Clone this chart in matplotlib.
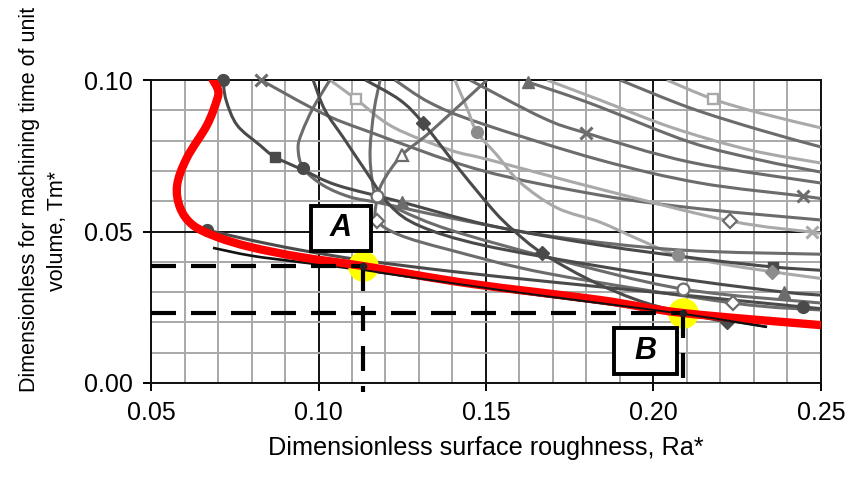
import numpy as np
import matplotlib
matplotlib.use("Agg")
import matplotlib.pyplot as plt
from matplotlib.path import Path
from matplotlib.patches import PathPatch, Rectangle

plt.rcParams['font.family'] = ['Liberation Sans', 'DejaVu Sans']

# ---------------- data ----------------
# Pareto front (red) and the nearby reference curve (black)
red_x = [0.0682, 0.0700, 0.0697, 0.0667, 0.0607, 0.0578, 0.0587, 0.0625, 0.0697,
         0.0796, 0.0945, 0.1133, 0.1452, 0.1840, 0.2088, 0.2500]
red_y = [0.1005, 0.0967, 0.0935, 0.0851, 0.0743, 0.0653, 0.0578, 0.0521, 0.0482,
         0.0449, 0.0416, 0.0386, 0.0328, 0.0274, 0.0231, 0.0191]
black_x = [0.0685, 0.0800, 0.0945, 0.1139, 0.1542, 0.2088, 0.2339]
black_y = [0.0446, 0.0420, 0.0399, 0.0372, 0.0307, 0.0228, 0.0185]

# Family of Tm*-Ra* curves for the individual parameter sets
h1_x = [0.2040, 0.2178, 0.2318, 0.2500]
h1_y = [0.1000, 0.0937, 0.0891, 0.0842]
h2_x = [0.1900, 0.2109, 0.2318, 0.2500]
h2_y = [0.1000, 0.0908, 0.0835, 0.0779]
h3_x = [0.1682, 0.1840, 0.2058, 0.2288, 0.2500]
h3_y = [0.1000, 0.0934, 0.0842, 0.0769, 0.0726]
h4_x = [0.1625, 0.1722, 0.1840, 0.2109, 0.2318, 0.2500]
h4_y = [0.0993, 0.0958, 0.0911, 0.0795, 0.0736, 0.0696]
h5_x = [0.1452, 0.1670, 0.1799, 0.2109, 0.2500]
h5_y = [0.1000, 0.0875, 0.0825, 0.0729, 0.0660]
h6_x = [0.1228, 0.1333, 0.1482, 0.1840, 0.2139, 0.2446, 0.2500]
h6_y = [0.1000, 0.0925, 0.0858, 0.0736, 0.0660, 0.0617, 0.0608]
g1_x = [0.0715, 0.0724, 0.0757, 0.0825, 0.0870, 0.0954, 0.1055, 0.1249, 0.1512,
        0.1840, 0.2139, 0.2357, 0.2500]
g1_y = [0.1000, 0.0934, 0.0851, 0.0785, 0.0746, 0.0703, 0.0653, 0.0597, 0.0520,
        0.0455, 0.0410, 0.0383, 0.0372]
g2_x = [0.0828, 0.1010, 0.1154, 0.1482, 0.1840, 0.2139, 0.2500]
g2_y = [0.1000, 0.0891, 0.0828, 0.0703, 0.0620, 0.0575, 0.0538]
g3_x = [0.1034, 0.1112, 0.1222, 0.1393, 0.1512, 0.1840, 0.2228, 0.2473, 0.2500]
g3_y = [0.1000, 0.0937, 0.0845, 0.0769, 0.0736, 0.0640, 0.0535, 0.0498, 0.0494]
s1_x = [0.0984, 0.1019, 0.1079, 0.1139, 0.1213, 0.1303, 0.1490, 0.1840, 0.2139,
        0.2390, 0.2500]
s1_y = [0.1000, 0.0901, 0.0802, 0.0703, 0.0587, 0.0518, 0.0455, 0.0385, 0.0335,
        0.0300, 0.0290]
s2_x = [0.1140, 0.1243, 0.1312, 0.1422, 0.1521, 0.1581, 0.1667, 0.1810, 0.1951,
        0.2079, 0.2219]
s2_y = [0.1000, 0.0934, 0.0858, 0.0703, 0.0571, 0.0505, 0.0429, 0.0340, 0.0274,
        0.0234, 0.0201]
s3_x = [0.1407, 0.1443, 0.1473, 0.1533, 0.1601, 0.1712, 0.1840, 0.1960, 0.2073,
        0.2258, 0.2500]
s3_y = [0.1000, 0.0908, 0.0828, 0.0752, 0.0663, 0.0578, 0.0531, 0.0472, 0.0422,
        0.0383, 0.0345]
c1_x = [0.1034, 0.0984, 0.0951, 0.0939, 0.0954, 0.1013, 0.1094, 0.1184, 0.1393,
        0.1691, 0.2079, 0.2500]
c1_y = [0.1000, 0.0908, 0.0828, 0.0776, 0.0710, 0.0653, 0.0614, 0.0594, 0.0545,
        0.0485, 0.0439, 0.0425]
c2_x = [0.1184, 0.1166, 0.1154, 0.1160, 0.1175, 0.1243, 0.1393, 0.1691, 0.2088, 0.2500]
c2_y = [0.1000, 0.0901, 0.0769, 0.0670, 0.0617, 0.0571, 0.0505, 0.0413, 0.0310, 0.0264]
c3_x = [0.1503, 0.1333, 0.1249, 0.1190, 0.1172, 0.1175, 0.1243, 0.1393, 0.1691,
        0.2237, 0.2500]
c3_y = [0.1000, 0.0828, 0.0752, 0.0660, 0.0590, 0.0535, 0.0488, 0.0439, 0.0360,
        0.0264, 0.0241]
d1_x = [0.0667, 0.0796, 0.0945, 0.1133, 0.1400, 0.1700, 0.2000, 0.2446, 0.2500]
d1_y = [0.0505, 0.0472, 0.0439, 0.0405, 0.0368, 0.0333, 0.0300, 0.0251, 0.0246]

# Markers sitting on the curves
circle_x = [0.0715, 0.0954, 0.2446, 0.0667]
circle_y = [0.1000, 0.0710, 0.0251, 0.0505]
light_circle_x = [0.1473, 0.2073]
light_circle_y = [0.0828, 0.0422]
square_x = [0.0870, 0.2357]
square_y = [0.0746, 0.0383]
hollow_square_x = [0.1112, 0.2178]
hollow_square_y = [0.0937, 0.0937]
triangle_x = [0.1249, 0.1625, 0.2390]
triangle_y = [0.0597, 0.0993, 0.0300]
hollow_triangle_x = [0.1249]
hollow_triangle_y = [0.0752]
diamond_x = [0.1312, 0.1667, 0.2219]
diamond_y = [0.0858, 0.0429, 0.0201]
light_diamond_x = [0.2354]
light_diamond_y = [0.0366]
hollow_diamond_x = [0.1175, 0.2228, 0.2237]
hollow_diamond_y = [0.0535, 0.0535, 0.0264]
hollow_circle_x = [0.1175, 0.2088]
hollow_circle_y = [0.0617, 0.0310]
cross_x = [0.0828, 0.1799, 0.2446]
cross_y = [0.1000, 0.0825, 0.0617]
light_cross_x = [0.2473]
light_cross_y = [0.0498]

# Selected optimum points
point_a = (0.1133, 0.0386)
point_b = (0.2088, 0.0231)

# ---------------- drawing ----------------
DARK = '#4a4a4a'
MID = '#6c6c6c'
LIGHT = '#a9a9a9'


def smooth_path(xs, ys):
    """Smoothed polyline through the points (Catmull-Rom as cubic Beziers)."""
    pts = np.column_stack([xs, ys]).astype(float)
    n = len(pts)
    verts = [pts[0]]
    codes = [Path.MOVETO]
    for i in range(n - 1):
        p0 = pts[i - 1] if i > 0 else pts[i]
        p1, p2 = pts[i], pts[i + 1]
        p3 = pts[i + 2] if i + 2 < n else pts[i + 1]
        verts += [p1 + (p2 - p0) / 6.0, p2 - (p3 - p1) / 6.0, p2]
        codes += [Path.CURVE4] * 3
    return Path(verts, codes)


def draw_curve(ax, xs, ys, color, lw=2.2, z=3):
    ax.add_patch(PathPatch(smooth_path(xs, ys), fill=False, edgecolor=color,
                           lw=lw, capstyle='butt', joinstyle='round', zorder=z))


fig = plt.figure(figsize=(8.61, 4.82), dpi=100)
ax = fig.add_axes([0.1754, 0.2054, 0.7781, 0.6286])
ax.set_xlim(0.05, 0.25)
ax.set_ylim(0.0, 0.10)

ax.set_xticks(np.arange(0.05, 0.2501, 0.05))
ax.set_yticks([0.0, 0.05, 0.10])
ax.set_xticks(np.arange(0.05, 0.2501, 0.01), minor=True)
ax.set_yticks(np.arange(0.0, 0.1001, 0.01), minor=True)
ax.xaxis.set_major_formatter(plt.FormatStrFormatter('%.2f'))
ax.yaxis.set_major_formatter(plt.FormatStrFormatter('%.2f'))
ax.grid(which='minor', color='#a8a8a8', lw=1.4, zorder=0)
ax.grid(which='major', color='#111111', lw=1.4, zorder=0)
ax.set_axisbelow(True)
ax.tick_params(which='minor', length=0)
ax.tick_params(which='major', length=6, width=1.4, direction='out',
               labelsize=18, pad=7)
for sp in ax.spines.values():
    sp.set_linewidth(1.4)
    sp.set_color('#111111')

for xs, ys, col in [
        (h1_x, h1_y, LIGHT), (h2_x, h2_y, MID), (h3_x, h3_y, LIGHT),
        (h4_x, h4_y, MID), (h5_x, h5_y, MID), (h6_x, h6_y, MID),
        (g2_x, g2_y, MID), (g3_x, g3_y, LIGHT), (s3_x, s3_y, LIGHT),
        (c1_x, c1_y, MID), (c2_x, c2_y, MID), (c3_x, c3_y, MID),
        (s1_x, s1_y, DARK), (s2_x, s2_y, DARK),
        (g1_x, g1_y, DARK), (d1_x, d1_y, DARK)]:
    draw_curve(ax, xs, ys, col)

mk = dict(ms=8.5, zorder=4, ls='none', clip_on=False)
ax.plot(circle_x, circle_y, 'o', color=DARK, **mk)
ax.plot(light_circle_x, light_circle_y, 'o', color='#8c8c8c', **mk)
ax.plot(square_x, square_y, 's', color=DARK, **dict(mk, ms=7.5))
ax.plot(hollow_square_x, hollow_square_y, 's', mfc='white', mec=LIGHT, mew=1.7,
        **dict(mk, ms=7.5))
ax.plot(triangle_x, triangle_y, '^', color=MID, **mk)
ax.plot(hollow_triangle_x, hollow_triangle_y, '^', mfc='white', mec=MID, mew=1.6, **mk)
ax.plot(diamond_x, diamond_y, 'D', color=DARK, **dict(mk, ms=7))
ax.plot(light_diamond_x, light_diamond_y, 'D', color='#8c8c8c', **dict(mk, ms=7))
ax.plot(hollow_diamond_x, hollow_diamond_y, 'D', mfc='white', mec=MID, mew=1.6,
        **dict(mk, ms=7))
ax.plot(hollow_circle_x, hollow_circle_y, 'o', mfc='white', mec=MID, mew=1.6, **mk)
ax.plot(cross_x, cross_y, 'x', color=MID, mew=2.2, **mk)
ax.plot(light_cross_x, light_cross_y, 'x', color=LIGHT, mew=2.2, **mk)

# black reference curve and red front
draw_curve(ax, black_x, black_y, '#111111', lw=1.9, z=5)
ax.plot([point_a[0], point_b[0]], [point_a[1], point_b[1]], 'o', ms=21,
        color='#ffff00', ls='none', zorder=5.5)
draw_curve(ax, red_x, red_y, '#ff0000', lw=6.0, z=6)
draw_curve(ax, black_x[3:], black_y[3:], '#111111', lw=1.4, z=6.5)

# dashed read-off lines
dash = dict(color='black', lw=3.0, dashes=(6.0, 3.6), zorder=7, clip_on=False)
for px, py in (point_a, point_b):
    ax.plot([0.05, px], [py, py], **dash)
    ax.plot([px, px], [py, -0.003], **dash)
ax.plot([point_a[0], point_b[0]], [point_a[1], point_b[1]], 'o', ms=4.5,
        color='#222222', ls='none', zorder=8)

# labelled boxes
for (x0, y0, w, h), lab in (((0.0978, 0.0436, 0.0179, 0.0148), 'A'),
                            ((0.1882, 0.0030, 0.0188, 0.0152), 'B')):
    ax.add_patch(Rectangle((x0, y0), w, h, facecolor='white', edgecolor='black',
                           lw=2.8, zorder=9))
    ax.text(x0 + w / 2, y0 + h / 2, lab, ha='center', va='center', fontsize=22,
            fontweight='bold', fontstyle='italic', zorder=10)

ax.set_xlabel('Dimensionless surface roughness, Ra*', fontsize=18.2, labelpad=8)
fig.text(30 / 861, 1 - 199 / 482, 'Dimensionless for machining time of unit',
         rotation=90, ha='center', va='center', fontsize=15.5)
fig.text(57 / 861, 1 - 231 / 482, 'volume, Tm*',
         rotation=90, ha='center', va='center', fontsize=15.5)

fig.savefig('out.png', dpi=100)
